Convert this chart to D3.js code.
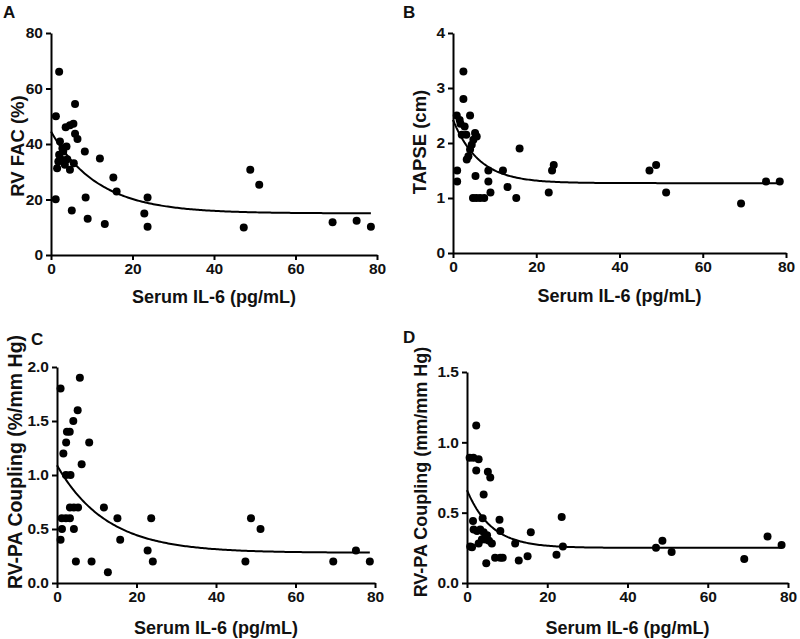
<!DOCTYPE html>
<html>
<head>
<meta charset="utf-8">
<script src="https://cdn.jsdelivr.net/npm/d3@7"></script>
<style>
  html, body { margin: 0; padding: 0; background: #fff; }
  svg { display: block; font-family: "Liberation Sans", Arial, Helvetica, sans-serif; font-weight: bold; }
</style>
</head>
<body>
<svg id="chart" width="800" height="639"></svg>
<script>
// ---------- Data ----------
const xTicks = [0, 20, 40, 60, 80];
const xTitle = "Serum IL-6 (pg/mL)";

// Panel A: RV FAC (%)
const fac_il6 = [2.0,1.2,5.9,3.6,4.65,5.5,5.9,6.5,2.2,3.8,3.0,2.0,2.6,4.0,1.8,3.4,1.5,4.65,5.6,8.3,12.0,15.3,16.1,1.15,8.5,5.1,9.0,13.2,23.7,22.9,23.7,47.3,48.9,51.1,69.1,75.0,78.5,2.8];
const fac_val = [66,50,54.4,46,46.8,47.3,43.7,41.8,40.9,39.1,37.3,36.1,34.3,34.5,33.7,32.5,31.3,30.7,33.1,37.3,34.8,27.9,22.9,20.1,20.7,16.0,13.1,11.2,20.7,15.0,10.2,9.9,30.7,25.3,11.8,12.3,10.2,38.5];
const fac_fit = [44.5, 15, 0.087];   // [Y0, plateau, K]
const fac_ticks = [0, 20, 40, 60, 80];

// Panel B: TAPSE (cm)
const tapse_il6 = [2.5,2.5,0.9,1.6,2.8,4.1,2.1,5.3,5.7,4.9,4.5,4.1,3.7,3.3,1.0,1.0,5.4,8.5,8.5,9.0,4.8,5.6,6.5,7.5,12.0,13.1,15.2,16.0,23.0,23.8,24.2,47.2,48.8,51.2,69.2,75.2,78.5,1.8,3.2];
const tapse_val = [3.3,2.8,2.5,2.42,2.3,2.5,2.15,2.18,2.12,2.06,1.97,1.88,1.76,1.7,1.5,1.3,1.4,1.5,1.3,1.1,1.0,1.0,1.0,1.0,1.5,1.2,1.0,1.9,1.1,1.5,1.6,1.5,1.6,1.1,0.9,1.3,1.3,2.35,2.15];
const tapse_fit = [2.42, 1.27, 0.16];
const tapse_ticks = [0, 1, 2, 3, 4];

// Panel C: RV-PA Coupling (%/mm Hg)
const cpl1_il6 = [0.9,5.75,5.2,4.1,2.5,3.2,2.3,8.1,1.6,6.2,2.25,3.4,3.25,4.25,5.3,1.2,2.25,3.25,1.25,4.25,0.9,4.75,8.7,12.8,11.8,15.2,15.9,22.8,23.7,24.1,47.4,48.8,51.2,69.5,75.2,78.7];
const cpl1_val = [1.8,1.9,1.6,1.5,1.4,1.4,1.3,1.3,1.2,1.1,1.0,1.0,0.7,0.7,0.7,0.6,0.6,0.6,0.5,0.5,0.4,0.2,0.2,0.1,0.7,0.6,0.4,0.3,0.6,0.2,0.2,0.6,0.5,0.2,0.3,0.2];
const cpl1_fit = [1.09, 0.28, 0.08];
const cpl1_ticks = [0, 0.5, 1.0, 1.5, 2.0];

// Panel D: RV-PA Coupling (mm/mm Hg)
const cpl2_il6 = [2.3,0.65,1.6,2.9,2.3,5.2,5.8,4.15,1.5,3.9,8.1,1.65,2.5,3.3,4.15,5.0,3.7,4.6,6.2,8.3,0.8,1.25,2.9,7.0,8.3,8.9,4.8,12.0,12.9,15.1,15.9,23.6,23.9,22.3,47.1,48.7,51.0,69.1,74.9,78.4,5.5];
const cpl2_val = [1.12,0.89,0.89,0.88,0.80,0.79,0.75,0.63,0.44,0.46,0.45,0.38,0.37,0.38,0.36,0.34,0.31,0.31,0.28,0.37,0.26,0.255,0.28,0.18,0.18,0.18,0.14,0.28,0.16,0.19,0.36,0.47,0.26,0.20,0.25,0.30,0.22,0.17,0.33,0.27,0.30];
const cpl2_fit = [0.66, 0.25, 0.165];
const cpl2_ticks = [0, 0.5, 1.0, 1.5];

// ---------- Layout ----------
const panels = [
  { letter: "A", lx: 3, ly: 18, x0: 51, x1: 377, yb: 255, yt: 33,
    xs: fac_il6, ys: fac_val, fit: fac_fit, ticks: fac_ticks, fmt: d3.format("d"),
    ytitle: "RV FAC (%)", ytx: 24, ytc: 146, yfs: 18.5, xtb: 48 },
  { letter: "B", lx: 403, ly: 18, x0: 453, x1: 786, yb: 253, yt: 33,
    xs: tapse_il6, ys: tapse_val, fit: tapse_fit, ticks: tapse_ticks, fmt: d3.format("d"),
    ytitle: "TAPSE (cm)", ytx: 426, ytc: 142, yfs: 18.5, xtb: 49 },
  { letter: "C", lx: 31, ly: 345, x0: 57, x1: 375, yb: 583, yt: 367,
    xs: cpl1_il6, ys: cpl1_val, fit: cpl1_fit, ticks: cpl1_ticks, fmt: d3.format(".1f"),
    ytitle: "RV-PA Coupling (%/mm Hg)", ytx: 22, ytc: 462, yfs: 19.5, xtb: 51 },
  { letter: "D", lx: 403, ly: 343, x0: 467, x1: 788, yb: 583, yt: 372,
    xs: cpl2_il6, ys: cpl2_val, fit: cpl2_fit, ticks: cpl2_ticks, fmt: d3.format(".1f"),
    ytitle: "RV-PA Coupling (mm/mm Hg)", ytx: 427, ytc: 472, yfs: 18, xtb: 51 }
];

const svg = d3.select("#chart");

panels.forEach(p => {
  const x = d3.scaleLinear().domain([0, 80]).range([p.x0, p.x1]);
  const yMax = p.ticks[p.ticks.length - 1];
  const y = d3.scaleLinear().domain([0, yMax]).range([p.yb, p.yt]);
  const g = svg.append("g");

  // axes
  const xa = g.append("g").attr("transform", `translate(0,${p.yb})`)
    .call(d3.axisBottom(x).tickValues(xTicks).tickSize(5).tickSizeOuter(0).tickPadding(3).tickFormat(d3.format("d")));
  const ya = g.append("g").attr("transform", `translate(${p.x0},0)`)
    .call(d3.axisLeft(y).tickValues(p.ticks).tickSize(5).tickSizeOuter(0).tickPadding(3).tickFormat(p.fmt));
  [xa, ya].forEach(a => {
    a.selectAll("path,line").attr("stroke", "#000").attr("stroke-width", 2);
    a.selectAll("text").attr("font-size", 15.5).attr("font-weight", "bold").attr("fill", "#111")
      .attr("font-family", '"Liberation Sans", Arial, sans-serif');
  });

  // fitted curve (one-phase decay)
  const [Y0, P, K] = p.fit;
  const xmax = d3.max(p.xs);
  const curvePts = d3.range(0, 201).map(i => {
    const xv = xmax * i / 200;
    return [xv, P + (Y0 - P) * Math.exp(-K * xv)];
  });
  g.append("path")
    .attr("d", d3.line().x(d => x(d[0])).y(d => y(d[1]))(curvePts))
    .attr("fill", "none").attr("stroke", "#000").attr("stroke-width", 2);

  // points
  g.selectAll("circle.pt").data(p.xs.map((v, i) => [v, p.ys[i]]))
    .join("circle").attr("class", "pt")
    .attr("cx", d => x(d[0])).attr("cy", d => y(d[1])).attr("r", 4)
    .attr("fill", "#000");

  // titles
  g.append("text").attr("x", (p.x0 + p.x1) / 2).attr("y", p.yb + p.xtb)
    .attr("text-anchor", "middle").attr("font-size", 18).attr("fill", "#111")
    .text(xTitle);
  g.append("text")
    .attr("transform", `translate(${p.ytx},${p.ytc}) rotate(-90)`)
    .attr("text-anchor", "middle").attr("font-size", p.yfs).attr("fill", "#111")
    .text(p.ytitle);
  g.append("text").attr("x", p.lx).attr("y", p.ly)
    .attr("font-size", 17).attr("fill", "#111").text(p.letter);
});
</script>
</body>
</html>
